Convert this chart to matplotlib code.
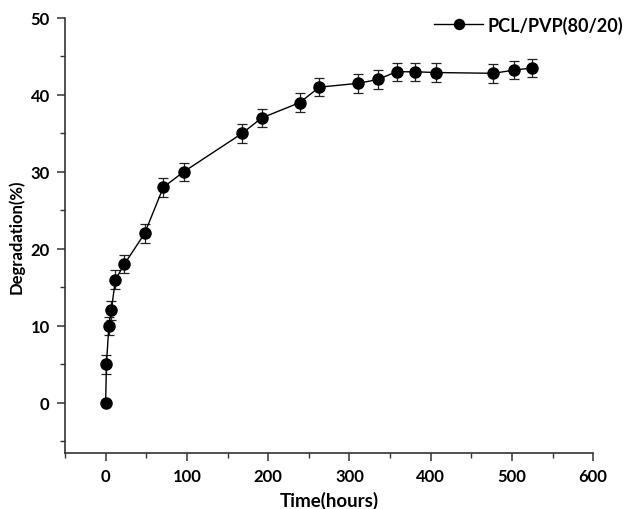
import numpy as np
import matplotlib.pyplot as plt
from matplotlib.ticker import MultipleLocator

plt.rcParams['font.family'] = ['Lato', 'DejaVu Sans']
plt.rcParams['font.weight'] = 'bold'

# Degradation of PCL/PVP(80/20) over time
time_h = [0, 1, 4, 7, 12, 23, 48, 71, 96, 168, 192, 239, 263, 311, 335, 358, 381, 406, 477, 502, 525]
degradation = [0, 5, 10, 12, 16, 18, 22, 28, 30, 35, 37, 39, 41, 41.5, 42, 43, 43, 42.9, 42.8, 43.2, 43.5]
error = [0, 1.2, 1.2, 1.2, 1.2, 1.2, 1.2, 1.2, 1.2, 1.2, 1.2, 1.2, 1.2, 1.2, 1.2, 1.2, 1.2, 1.2, 1.2, 1.2, 1.2]

fig = plt.figure(figsize=(6.25, 5.1), dpi=100)
ax = fig.add_axes([0.104, 0.11, 0.845, 0.853])

ax.errorbar(time_h, degradation, yerr=error, fmt='none', ecolor='#222222',
            elinewidth=0.9, capsize=3.5, capthick=0.9)
ax.plot(time_h, degradation, color='black', marker='o', markersize=8, lw=1.0,
        label='PCL/PVP(80/20)')

ax.set_xlim(-50, 600)
ax.set_ylim(-6.5, 50)
ax.xaxis.set_major_locator(MultipleLocator(100))
ax.xaxis.set_minor_locator(MultipleLocator(50))
ax.yaxis.set_major_locator(MultipleLocator(10))
ax.yaxis.set_minor_locator(MultipleLocator(5))

for s in ['top', 'right']:
    ax.spines[s].set_visible(False)
for s in ['left', 'bottom']:
    ax.spines[s].set_linewidth(1.2)
    ax.spines[s].set_color('#333333')

ax.tick_params(which='major', direction='out', length=6, width=1.1, labelsize=12, pad=5,
               color='#333333')
ax.tick_params(which='minor', direction='out', length=3.5, width=1.0, color='#333333')

ax.set_xlabel('Time(hours)', fontsize=13.5, fontweight='bold', labelpad=5)
ax.set_ylabel('Degradation(%)', fontsize=12, fontweight='bold', labelpad=4)

leg = ax.legend(loc='upper right', frameon=False, fontsize=13, handlelength=2.7,
                handletextpad=0.25, markerscale=0.9, borderpad=0.0, borderaxespad=0.0,
                bbox_to_anchor=(1.057, 1.005))

fig.savefig('out.png', dpi=100)
